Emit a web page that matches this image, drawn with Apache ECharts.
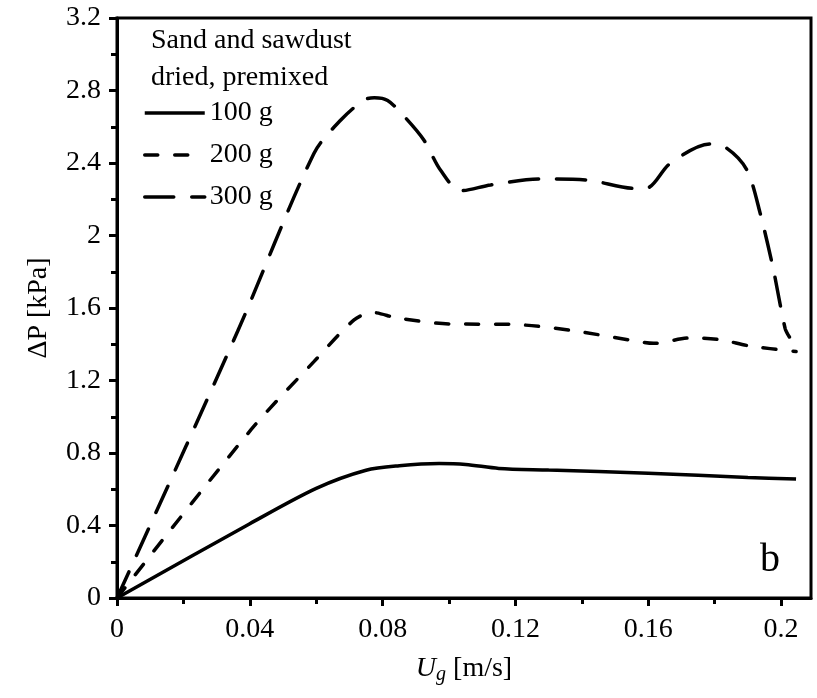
<!DOCTYPE html>
<html>
<head>
<meta charset="utf-8">
<script src="https://cdn.jsdelivr.net/npm/echarts@6/dist/echarts.min.js"></script>
<style>html,body{margin:0;padding:0;background:#fff}#c{width:817px;height:698px}</style>
</head>
<body>
<div id="c"></div>
<script>
const FONT = "'Liberation Serif','Times New Roman',serif";
const seriesNames = ['100 g', '200 g', '300 g'];
const x100 = [0, 0.04, 0.06, 0.075, 0.085, 0.097, 0.105, 0.115, 0.13, 0.16, 0.19, 0.2045];
const y100 = [0, 0.41, 0.605, 0.705, 0.73, 0.742, 0.737, 0.715, 0.706, 0.688, 0.665, 0.656];
const x200 = [0, 0.0403, 0.0593, 0.0714, 0.077, 0.0844, 0.1005, 0.1185, 0.1365, 0.1546, 0.1616, 0.1726, 0.1816, 0.1907, 0.2045];
const y200 = [0, 0.927, 1.304, 1.534, 1.575, 1.545, 1.512, 1.51, 1.477, 1.423, 1.405, 1.435, 1.425, 1.39, 1.36];
const x300 = [0, 0.0363, 0.0593, 0.0674, 0.0744, 0.0775, 0.0815, 0.0864, 0.0924, 0.0974, 0.1035, 0.1125, 0.1275, 0.1416, 0.1556, 0.1596, 0.1666, 0.1786, 0.1837, 0.1897, 0.1937, 0.1977, 0.2012, 0.2025];
const y300 = [0, 1.47, 2.453, 2.637, 2.748, 2.76, 2.745, 2.659, 2.527, 2.361, 2.247, 2.279, 2.312, 2.306, 2.26, 2.262, 2.398, 2.505, 2.481, 2.361, 2.122, 1.81, 1.488, 1.44];
const xMajorTicks = [0, 0.04, 0.08, 0.12, 0.16, 0.2];
const xMinorTicks = [0.02, 0.06, 0.1, 0.14, 0.18];

const zip = (xs, ys) => xs.map((x, i) => [x, ys[i]]);
const styles = [
  { type: 'solid' },
  { type: [13, 17], cap: 'round' },
  { type: [29, 18], cap: 'round' }
];
const data = [zip(x100, y100), zip(x200, y200), zip(x300, y300)];

const chart = echarts.init(document.getElementById('c'), null, { renderer: 'canvas' });
chart.setOption({
  animation: false,
  backgroundColor: '#fff',
  grid: { left: 117, right: 6, top: 18, bottom: 100, show: true, borderColor: '#000', borderWidth: 3, containLabel: false },
  legend: {
    data: seriesNames,
    orient: 'vertical',
    left: 138, top: 94,
    itemWidth: 60, itemHeight: 14, itemGap: 14,
    itemStyle: { opacity: 0 },
    lineStyle: { width: 3.5 },
    textStyle: { fontFamily: FONT, fontSize: 28, color: '#000' }
  },
  graphic: [
    { type: 'text', left: 151, top: 22, style: { text: 'Sand and sawdust\ndried, premixed', font: '28px ' + FONT, lineHeight: 37, fill: '#000' } },
    { type: 'text', left: 760, top: 540, style: { text: 'b', font: '40px ' + FONT, fill: '#000' } }
  ],
  xAxis: [{
    type: 'value', min: 0, max: 0.209, interval: 0.04,
    position: 'bottom',
    name: '{i|U}{s|g} [m/s]',
    nameLocation: 'middle', nameGap: 55,
    nameTextStyle: { fontFamily: FONT, fontSize: 28, color: '#000',
      rich: { i: { fontFamily: FONT, fontSize: 28, fontStyle: 'italic', color: '#000' },
              s: { fontFamily: FONT, fontSize: 20, fontStyle: 'italic', color: '#000', padding: [12, 0, 0, 0] } } },
    axisLine: { show: true, lineStyle: { color: '#000', width: 3 } },
    axisTick: { show: true, inside: false, length: 8, lineStyle: { color: '#000', width: 3 }, customValues: xMajorTicks },
    axisLabel: { customValues: xMajorTicks, margin: 18, fontFamily: FONT, fontSize: 28, color: '#000',
      formatter: v => String(+(+v).toFixed(4)) },
    splitLine: { show: false }
  }, {
    type: 'value', min: 0, max: 0.209, position: 'bottom', gridIndex: 0,
    axisLine: { show: false },
    axisTick: { show: true, inside: false, length: 6, lineStyle: { color: '#000', width: 3 }, customValues: xMinorTicks },
    axisLabel: { show: false },
    splitLine: { show: false }
  }],
  yAxis: {
    type: 'value', min: 0, max: 3.2, interval: 0.4,
    name: 'ΔP [kPa]', nameLocation: 'middle', nameGap: 64, nameRotate: 90,
    nameTextStyle: { fontFamily: FONT, fontSize: 28, color: '#000' },
    axisLine: { show: true, lineStyle: { color: '#000', width: 3 } },
    axisTick: { show: true, inside: false, length: 8, lineStyle: { color: '#000', width: 3 } },
    minorTick: { show: true, splitNumber: 2, length: 6, lineStyle: { color: '#000', width: 3 } },
    axisLabel: { margin: 16, fontFamily: FONT, fontSize: 28, color: '#000',
      formatter: v => String(+(+v).toFixed(2)) },
    splitLine: { show: false }
  },
  series: seriesNames.map((n, i) => ({
    name: n, type: 'line', data: data[i], xAxisIndex: 0,
    symbol: 'none', showSymbol: false, smooth: 0.3,
    lineStyle: Object.assign({ color: '#000', width: 3.5 }, styles[i]),
    itemStyle: { color: '#000' }
  }))
});
</script>
</body>
</html>
